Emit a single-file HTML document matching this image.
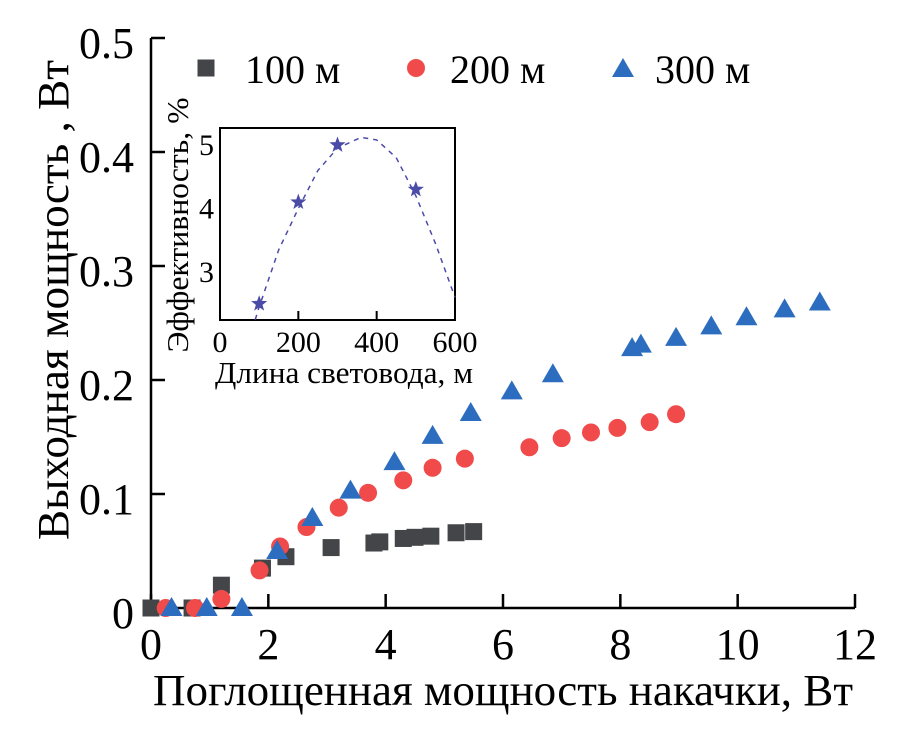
<!DOCTYPE html>
<html><head><meta charset="utf-8"><style>
html,body{margin:0;padding:0;background:#fff}
svg{display:block;font-family:"Liberation Serif",serif}
</style></head><body>
<svg id="chart" width="905" height="732" viewBox="0 0 905 732"></svg>
<script>
// main chart data
const xTicks = [0, 2, 4, 6, 8, 10, 12];
const yTicks = [0, 0.1, 0.2, 0.3, 0.4, 0.5];
const yTickLabels = ["0", "0.1", "0.2", "0.3", "0.4", "0.5"];
const s100x = [0.0, 0.7, 1.2, 1.9, 2.3, 3.07, 3.8, 3.9, 4.3, 4.5, 4.77, 5.2, 5.5];
const s100y = [0.0, 0.0, 0.02, 0.035, 0.045, 0.053, 0.057, 0.058, 0.061, 0.062, 0.063, 0.066, 0.067];
const s200x = [0.25, 0.75, 1.2, 1.85, 2.2, 2.65, 3.2, 3.7, 4.3, 4.8, 5.35, 6.45, 7.0, 7.5, 7.95, 8.5, 8.95];
const s200y = [0.0, 0.0, 0.008, 0.033, 0.054, 0.071, 0.088, 0.101, 0.112, 0.123, 0.131, 0.141, 0.149, 0.154, 0.158, 0.163, 0.170];
const s300x = [0.35, 0.95, 1.55, 2.15, 2.75, 3.4, 4.15, 4.8, 5.45, 6.15, 6.85, 8.2, 8.35, 8.95, 9.55, 10.15, 10.8, 11.4];
const s300y = [0.0, 0.0, 0.0, 0.05, 0.079, 0.103, 0.128, 0.151, 0.171, 0.19, 0.205, 0.228, 0.231, 0.237, 0.247, 0.255, 0.262, 0.268];
// inset data
const inXTicks = [0, 200, 400, 600];
const inYTicks = [3, 4, 5];
const effX = [100, 200, 300, 500];
const effY = [2.5, 4.1, 5.0, 4.3];
const fitX = [90, 100, 150, 200, 250, 300, 360, 400, 450, 500, 550, 600];
const fitY = [2.25, 2.45, 3.35, 4.0, 4.6, 4.95, 5.12, 5.08, 4.8, 4.2, 3.45, 2.6];

const NS = "http://www.w3.org/2000/svg";
const svg = document.getElementById("chart");
function mk(tag, attrs, parent) {
  const e = document.createElementNS(NS, tag);
  for (const k in attrs) e.setAttribute(k, attrs[k]);
  (parent || svg).appendChild(e);
  return e;
}
const X = v => 151 + v * (855 - 151) / 12;
const Y = v => 608 - v * (608 - 38) / 0.5;
const IX = v => 220 + v * (455 - 220) / 600;
const IY = v => 145 + (5 - v) * 63.5;

// axes
const ax = mk("path", {d: `M${X(0)},${Y(0.5)} L${X(0)},${Y(0)} L${X(12)},${Y(0)}`, fill: "none", stroke: "#000", "stroke-width": 2.5});


xTicks.forEach(t => {
  const l = mk("line", {x1: X(t), x2: X(t), y1: Y(0), y2: Y(0) - 14, stroke: "#000", "stroke-width": 2.5});
  
  
  const tx = mk("text", {x: X(t), y: 659, "text-anchor": "middle", "font-size": 44});
  tx.textContent = t;
  
  
});
yTicks.forEach((t, i) => {
  const l = mk("line", {x1: X(0), x2: X(0) + 14, y1: Y(t), y2: Y(t), stroke: "#000", "stroke-width": 2.5});
  
  
  const tx = mk("text", {x: 134, y: Y(t) + 20, "text-anchor": "end", "font-size": 44});
  tx.textContent = yTickLabels[i];
  
  
});
const xt = mk("text", {x: 503, y: 705, "text-anchor": "middle", "font-size": 44, textLength: 700, lengthAdjust: "spacingAndGlyphs"});
xt.textContent = "Поглощенная мощность накачки, Вт";


const yt = mk("text", {x: 0, y: 0, "text-anchor": "middle", "font-size": 44, textLength: 480, lengthAdjust: "spacingAndGlyphs", transform: "translate(68,300) rotate(-90)"});
yt.textContent = "Выходная мощность , Вт";



function square(cx, cy, g) { return mk("rect", {x: cx - 8.5, y: cy - 8.5, width: 17, height: 17, fill: "#434548"}, g); }
function circle(cx, cy, g) { return mk("circle", {cx, cy, r: 9, fill: "#f04a4a"}, g); }
function tri(cx, cy, g) { return mk("polygon", {points: `${cx - 11},${cy + 8} ${cx + 11},${cy + 8} ${cx},${cy - 11}`, fill: "#2c6dbf"}, g); }

// series
const g1 = mk("g", {});  
s100x.forEach((v, i) => { const p = square(X(v), Y(s100y[i]), g1);   });
const g2 = mk("g", {});  
s200x.forEach((v, i) => { const p = circle(X(v), Y(s200y[i]), g2);   });
const g3 = mk("g", {});  
s300x.forEach((v, i) => { const p = tri(X(v), Y(s300y[i]), g3);   });

// legend
const lg = mk("g", {});  
square(206, 68, lg); circle(416, 68, lg); tri(623, 69, lg);
[["100 м", 245], ["200 м", 450], ["300 м", 655]].forEach(([t, x]) => {
  const e = mk("text", {x, y: 83, "font-size": 40}, lg);
  e.textContent = t;
  
  
});

// inset
const ig = mk("g", {});  
mk("rect", {x: 220, y: 128, width: 235, height: 192, fill: "#fff", stroke: "#000", "stroke-width": 2}, ig);
inXTicks.forEach(t => {
  const l = mk("line", {x1: IX(t), x2: IX(t), y1: 320, y2: 311, stroke: "#000", "stroke-width": 2}, ig);
   
  const e = mk("text", {x: IX(t), y: 352, "text-anchor": "middle", "font-size": 30}, ig);
  e.textContent = t;
   
});
inYTicks.forEach(t => {
  const e = mk("text", {x: 214, y: IY(t) + 10, "text-anchor": "end", "font-size": 30}, ig);
  e.textContent = t;
   
});
const fit = mk("polyline", {points: fitX.map((v, i) => `${IX(v)},${IY(fitY[i])}`).join(" "), fill: "none", stroke: "#4b4ba8", "stroke-width": 1.5, "stroke-dasharray": "5,5"}, ig);
 
effX.forEach((v, i) => {
  const cx = IX(v), cy = IY(effY[i]); let pts = [];
  for (let k = 0; k < 10; k++) { const r = k % 2 ? 3.5 : 8.5, a = -Math.PI / 2 + k * Math.PI / 5; pts.push(`${cx + r * Math.cos(a)},${cy + r * Math.sin(a)}`); }
  const s = mk("polygon", {points: pts.join(" "), fill: "#4b4ba8"}, ig);
   
});
const ixt = mk("text", {x: 344, y: 383, "text-anchor": "middle", "font-size": 31, textLength: 258, lengthAdjust: "spacingAndGlyphs"}, ig);
ixt.textContent = "Длина световода, м";
 
const iyt = mk("text", {x: 0, y: 0, "text-anchor": "middle", "font-size": 31, textLength: 255, lengthAdjust: "spacingAndGlyphs", transform: "translate(188,225) rotate(-90)"}, ig);
iyt.textContent = "Эффективность, %";
 
</script>
</body></html>
